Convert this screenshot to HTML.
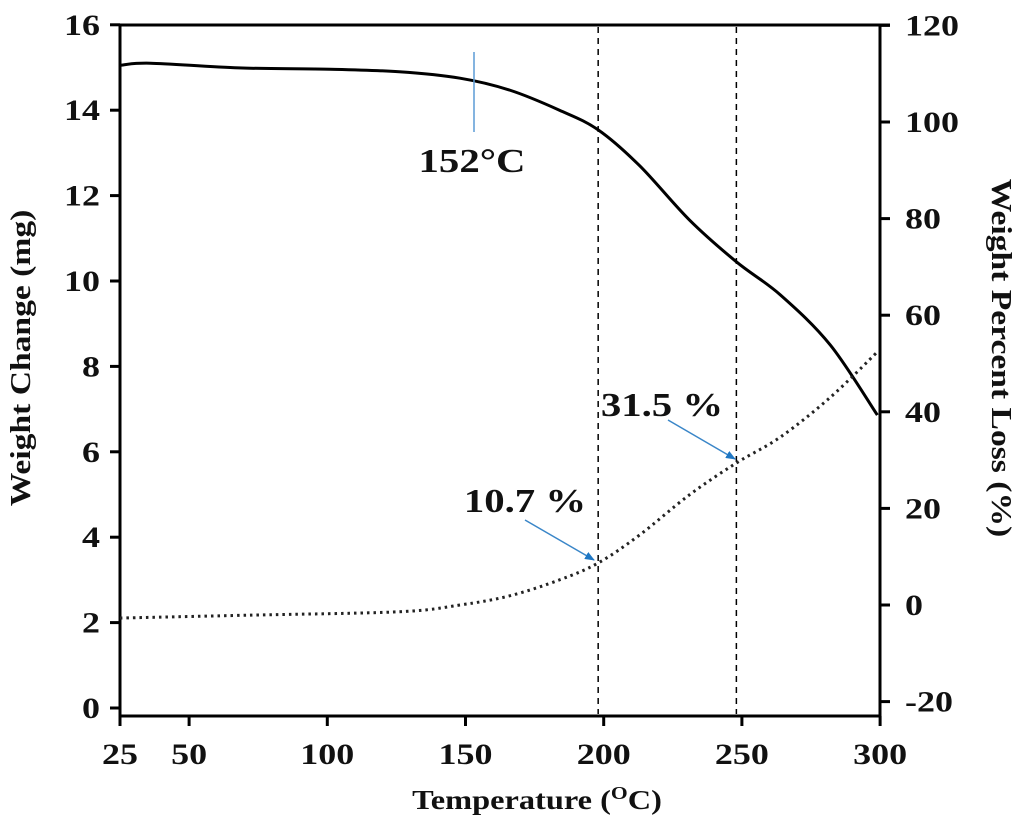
<!DOCTYPE html>
<html><head><meta charset="utf-8"><style>
body{margin:0;background:#fff}
svg text{font-family:"Liberation Serif","Times New Roman",serif;font-weight:bold;fill:#111}
</style></head><body>
<svg id="c" width="1024" height="821"></svg>
<script>
const xTicks=[25,50,100,150,200,250,300];
const yLeftTicks=[0,2,4,6,8,10,12,14,16];
const yRightTicks=[-20,0,20,40,60,80,100,120];
const solidT=[25,36,68,101,126,148,166,184,198,213,231,248,264,282,299];
const solidMg=[15.05,15.1,14.99,14.96,14.9,14.75,14.47,14.0,13.54,12.7,11.43,10.45,9.67,8.5,6.86];
const dotT=[25,72,126,148,166,184,198,213,231,248,264,282,299];
const dotPct=[-2.7,-2.1,-1.4,0,1.9,5.2,8.7,14.5,22.8,29.4,34.8,43,52.4];
const markers=[198,248];
const NS="http://www.w3.org/2000/svg";
const svg=document.getElementById('c');
const X=t=>120+(t-25)*2.764;
const YL=v=>708-v*42.7;
const YR=v=>605-v*4.83;
function el(tag,attrs,parent){const e=document.createElementNS(NS,tag);for(const k in attrs)e.setAttribute(k,attrs[k]);(parent||svg).appendChild(e);return e;}
function tx(x,y,s,anchor,size,name,rot){const t=el('text',{x:0,y:0,'text-anchor':anchor,'font-size':size,'font-family':'Liberation Serif','font-weight':'bold',transform:'translate('+x+','+y+')'+(rot?' rotate('+rot+')':'')+' scale(1.2,1)'});t.textContent=s;return t;}
const fr=el('path',{d:'M120,25 V716 H880 V25 Z M120,25 H890',fill:'none',stroke:'#000','stroke-width':3});


xTicks.forEach(t=>{
  const l=el('line',{x1:X(t),x2:X(t),y1:716,y2:726,stroke:'#000','stroke-width':3});
  
  
  tx(X(t),764,String(t),'middle',30,'x-tick-label');
});
yLeftTicks.forEach(v=>{
  const l=el('line',{x1:110,x2:120,y1:YL(v),y2:YL(v),stroke:'#000','stroke-width':3});
  
  
  tx(100,YL(v)+10,String(v),'end',30,'y-left-tick-label');
});
yRightTicks.forEach(v=>{
  const l=el('line',{x1:880,x2:890,y1:YR(v),y2:YR(v),stroke:'#000','stroke-width':3});
  
  
  tx(905,YR(v)+10,String(v),'start',30,'y-right-tick-label');
});
markers.forEach(t=>{
  const l=el('line',{x1:X(t),x2:X(t),y1:27,y2:714,stroke:'#000','stroke-width':1.5,'stroke-dasharray':'6,5'});
  
  
});
function smooth(pts){let d='M'+pts[0][0]+','+pts[0][1];for(let i=0;i<pts.length-1;i++){const p0=pts[i-1]||pts[i],p1=pts[i],p2=pts[i+1],p3=pts[i+2]||p2;d+=' C'+(p1[0]+(p2[0]-p0[0])/6)+','+(p1[1]+(p2[1]-p0[1])/6)+' '+(p2[0]-(p3[0]-p1[0])/6)+','+(p2[1]-(p3[1]-p1[1])/6)+' '+p2[0]+','+p2[1];}return d;}
const s=el('path',{d:smooth(solidT.map((t,i)=>[X(t),YL(solidMg[i])])),fill:'none',stroke:'#000','stroke-width':3});


const dt=el('path',{d:smooth(dotT.map((t,i)=>[X(t),YR(dotPct[i])])),fill:'none',stroke:'#222','stroke-width':3,'stroke-dasharray':'2.5,4'});


const a0=el('line',{x1:474,x2:474,y1:52,y2:132,stroke:'#5b9bd5','stroke-width':1.5});


tx(472,172,'152°C','middle',34,'onset-label');
const defs=el('defs',{});
const mk=el('marker',{id:'ar',markerWidth:10,markerHeight:8,refX:9,refY:4,orient:'auto',markerUnits:'userSpaceOnUse'},defs);
el('path',{d:'M0,0 L10,4 L0,8 Z',fill:'#1f77c4'},mk);
[[525,520,594,560],[668,420,735,459]].forEach(a=>{
  const l=el('line',{x1:a[0],y1:a[1],x2:a[2],y2:a[3],stroke:'#3a86c8','stroke-width':1.5,'marker-end':'url(#ar)'});
  
  
});
tx(525,512,'10.7 %','middle',34,'loss-label-200');
tx(662,416,'31.5 %','middle',34,'loss-label-250');
tx(30,358,'Weight Change (mg)','middle',28,'y-left-axis-title',-90);
tx(992,358,'Weight Percent Loss (%)','middle',28,'y-right-axis-title',90);
const xt=tx(537,809,'','middle',27,'x-axis-title');
xt.innerHTML='Temperature (<tspan font-size="18" dy="-10">O</tspan><tspan dy="10">C)</tspan>';
</script>
</body></html>
